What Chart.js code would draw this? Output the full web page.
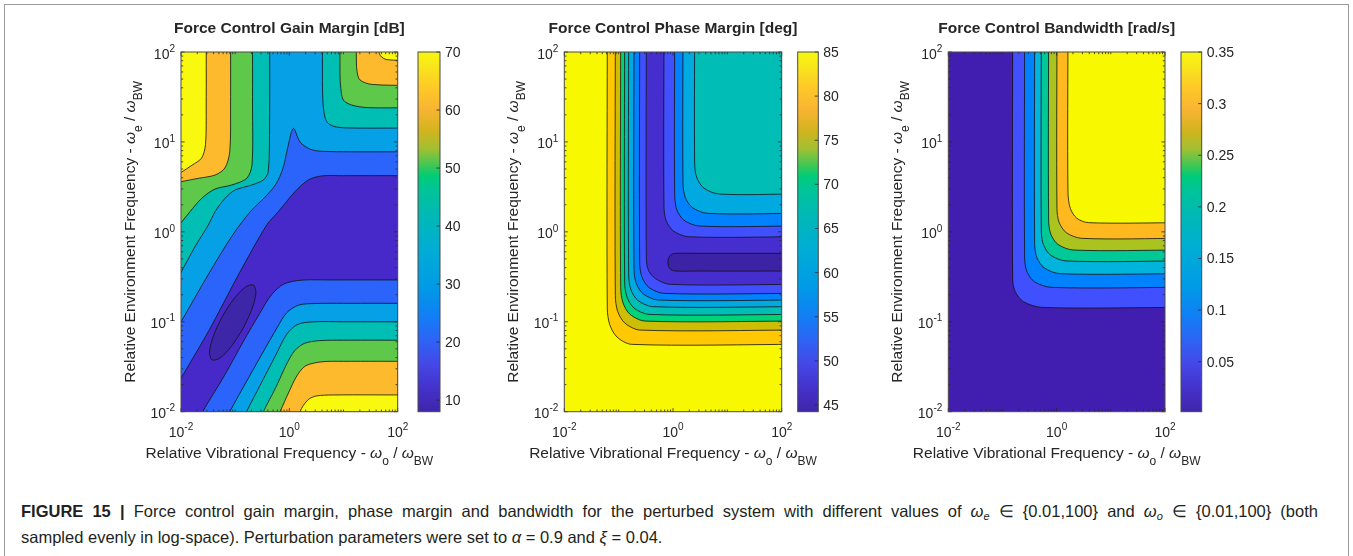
<!DOCTYPE html>
<html>
<head>
<meta charset="utf-8">
<title>Force control margins</title>
<script src="https://cdn.jsdelivr.net/npm/chart.js@4.4.1/dist/chart.umd.min.js"></script>
<style>
  html, body { margin: 0; padding: 0; background: #fff; }
  body { width: 1353px; height: 556px; position: relative; overflow: hidden;
         font-family: "Liberation Sans", Arial, Helvetica, sans-serif; }
  .frame { position: absolute; left: 4px; top: 4px; width: 1343px; height: 620px; border: 1px solid #9a9a9a; }
  canvas { position: absolute; }
  .caption { position: absolute; left: 21px; top: 498px; font-size: 16.5px; line-height: 26px;
             color: #231f20; white-space: nowrap; }
  .caption sub { font-size: 11px; vertical-align: -3px; line-height: 0; }
</style>
</head>
<body>
<div class="frame"></div>
<div class="caption"><span id="capLine1"><b>FIGURE 15</b> <b>|</b> Force control gain margin, phase margin and bandwidth for the perturbed system with different values of <i>ω<sub>e</sub></i> ∈ {0.01,100} and <i>ω<sub>o</sub></i> ∈ {0.01,100} (both</span><br>sampled evenly in log-space). Perturbation parameters were set to <i>α</i> = 0.9 and <i>ξ</i> = 0.04.</div>

<script>
// ================= DATA : AXES =================
// both axes: omega / omega_BW, log scale 1e-2 .. 1e2
const xTicks = [0.01, 1, 100];
const xTickExp = ['-2', '0', '2'];
const yTicks = [0.01, 0.1, 1, 10, 100];
const yTickExp = ['-2', '-1', '0', '1', '2'];

// contour lines are stored as [log10(w_o), log10(w_e)] pairs

// ================= DATA : GAIN MARGIN [dB] =================
const gmRange = [8.0, 70];
const gmBarTicks = [10, 20, 30, 40, 50, 60, 70];
// upper-left hills (40..70 dB)
const gmUL40 = [[-2.3,-0.78],[-2.0,-0.45],[-1.742,-0.165],[-1.496,0.076],[-1.372,0.224],[-1.188,0.373],[-1.003,0.465],[-0.695,0.521],[-0.48,0.577],[-0.39,0.669],[-0.365,1.2],[-0.363,2.3]];
const gmUL50 = [[-2.3,-0.12],[-2.0,0.10],[-1.834,0.224],[-1.618,0.373],[-1.372,0.476],[-1.064,0.521],[-0.787,0.595],[-0.69,0.743],[-0.68,1.4],[-0.68,2.3]];
const gmUL60 = [[-2.3,0.52],[-2.0,0.558],[-1.68,0.595],[-1.37,0.632],[-1.19,0.71],[-1.10,0.89],[-1.085,1.4],[-1.085,2.3]];
const gmUL70 = [[-2.3,0.54],[-2.0,0.66],[-1.80,0.74],[-1.62,0.82],[-1.548,0.97],[-1.535,1.4],[-1.535,2.3]];
// upper-right hills
const gmUR40 = [[0.612,2.3],[0.612,1.6],[0.63,1.374],[0.689,1.225],[0.843,1.169],[1.151,1.155],[2.3,1.155]];
const gmUR50 = [[0.935,2.3],[0.935,1.75],[0.95,1.596],[0.996,1.466],[1.151,1.41],[1.457,1.381],[2.3,1.381]];
const gmUR60 = [[1.237,2.3],[1.237,1.9],[1.25,1.78],[1.304,1.689],[1.52,1.64],[2.3,1.628]];
const gmUR70 = [[1.64,2.3],[1.64,2.05],[1.68,1.96],[1.80,1.915],[2.3,1.91]];
// valley, upper and lower branches of the 30 and 20 dB lines
const gmV30U = [[-2.3,-1.3],[-2.0,-1.0],[-1.502,-0.48],[-1.059,-0.046],[-0.726,0.221],[-0.449,0.387],[-0.246,0.532],[-0.117,0.71],[-0.019,0.966],[0.073,1.151],[0.197,1.0],[0.35,0.929],[0.535,0.899],[1.0,0.891],[2.3,0.891]];
const gmV20U = [[-2.3,-1.95],[-2.0,-1.629],[-1.496,-1.11],[-0.942,-0.48],[-0.418,0.076],[-0.204,0.224],[0.104,0.447],[0.35,0.577],[0.597,0.622],[1.0,0.625],[2.3,0.625]];
const gmV20L = [[-1.85,-2.3],[-1.60,-2.0],[-1.2,-1.6],[-0.85,-1.22],[-0.55,-0.91],[-0.33,-0.70],[-0.1,-0.58],[0.23,-0.537],[0.8,-0.535],[2.3,-0.535]];
const gmV30L = [[-1.35,-2.3],[-1.10,-2.0],[-0.75,-1.62],[-0.45,-1.3],[-0.22,-1.06],[-0.05,-0.90],[0.17,-0.815],[0.47,-0.797],[1.0,-0.795],[2.3,-0.795]];
// lower-right hills
const gmLR40 = [[-1.02,-2.3],[-0.79,-2.0],[-0.5,-1.66],[-0.25,-1.37],[-0.05,-1.14],[0.15,-1.03],[0.45,-1.0],[1.0,-1.0],[2.3,-1.0]];
const gmLR50 = [[-0.7,-2.3],[-0.48,-2.0],[-0.25,-1.73],[-0.05,-1.47],[0.1,-1.32],[0.28,-1.24],[0.55,-1.21],[1.0,-1.205],[2.3,-1.205]];
const gmLR60 = [[-0.38,-2.3],[-0.17,-2.0],[0.0,-1.77],[0.14,-1.6],[0.3,-1.49],[0.6,-1.445],[1.0,-1.44],[2.3,-1.44]];
const gmLR70 = [[0.1,-2.3],[0.20,-2.0],[0.26,-1.93],[0.36,-1.86],[0.5,-1.825],[0.8,-1.814],[2.3,-1.814]];
// closed 10 dB island
const gmE10 = [[-0.852,-1.073],[-0.688,-0.856],[-0.617,-0.679],[-0.665,-0.591],[-0.813,-0.615],[-1.024,-0.745],[-1.239,-0.944],[-1.404,-1.161],[-1.474,-1.337],[-1.426,-1.425],[-1.278,-1.402],[-1.068,-1.272],[-0.852,-1.073]];

// ================= DATA : PHASE MARGIN [deg] =================
const pmRange = [44.24, 85];
const pmBarTicks = [45, 50, 55, 60, 65, 70, 75, 80, 85];
const pmL80 = [[-1.209,2.3],[-1.209,-0.85],[-1.165,-1.03],[-1.03,-1.17],[-0.76,-1.251],[2.3,-1.251]];
const pmL75 = [[-1.061,2.3],[-1.061,-0.71],[-1.018,-0.885],[-0.885,-1.015],[-0.61,-1.092],[2.3,-1.092]];
const pmL70 = [[-0.963,2.3],[-0.963,-0.62],[-0.92,-0.79],[-0.79,-0.918],[-0.515,-0.992],[2.3,-0.992]];
const pmL65 = [[-0.890,2.3],[-0.890,-0.555],[-0.848,-0.722],[-0.718,-0.847],[-0.44,-0.918],[2.3,-0.918]];
const pmL60 = [[-0.816,2.3],[-0.816,-0.48],[-0.775,-0.643],[-0.645,-0.763],[-0.37,-0.832],[2.3,-0.832]];
const pmL55 = [[-0.718,2.3],[-0.718,-0.41],[-0.677,-0.572],[-0.548,-0.69],[-0.275,-0.758],[2.3,-0.758]];
const pmL50 = [[-0.613,2.3],[-0.613,-0.345],[-0.572,-0.502],[-0.443,-0.618],[-0.17,-0.684],[2.3,-0.684]];
const pmL45 = [[-0.491,2.3],[-0.491,-0.29],[-0.451,-0.43],[-0.322,-0.52],[-0.06,-0.584],[2.3,-0.584]];
const pmPill = [[2.3,-0.239],[0.5,-0.239],[0.03,-0.240],[-0.045,-0.258],[-0.085,-0.30],[-0.092,-0.3375],[-0.085,-0.375],[-0.045,-0.417],[0.03,-0.435],[0.5,-0.436],[2.3,-0.436]];
const pmU50 = [[-0.166,2.3],[-0.166,0.28],[-0.126,0.126],[0.004,0.011],[0.284,-0.054],[2.3,-0.054]];
const pmU55 = [[0.031,2.3],[0.031,0.40],[0.071,0.245],[0.201,0.13],[0.481,0.065],[2.3,0.065]];
const pmU60 = [[0.184,2.3],[0.184,0.54],[0.224,0.386],[0.354,0.271],[0.634,0.206],[2.3,0.206]];
const pmU65 = [[0.399,2.3],[0.399,0.75],[0.439,0.601],[0.569,0.486],[0.849,0.421],[2.3,0.421]];

// ================= DATA : BANDWIDTH [rad/s] =================
const bwRange = [0.0016, 0.35];
const bwBarTicks = [0.05, 0.1, 0.15, 0.2, 0.25, 0.3, 0.35];
const bwL05 = [[-0.812,2.3],[-0.812,-0.52],[-0.765,-0.665],[-0.61,-0.777],[-0.27,-0.840],[2.3,-0.840]];
const bwL10 = [[-0.591,2.3],[-0.591,-0.29],[-0.55,-0.44],[-0.41,-0.555],[-0.10,-0.617],[2.3,-0.617]];
const bwL15 = [[-0.406,2.3],[-0.406,-0.13],[-0.365,-0.285],[-0.23,-0.40],[0.06,-0.465],[2.3,-0.465]];
const bwL20 = [[-0.283,2.3],[-0.283,0.01],[-0.243,-0.145],[-0.11,-0.26],[0.18,-0.324],[2.3,-0.324]];
const bwL25 = [[-0.148,2.3],[-0.148,0.13],[-0.108,-0.025],[0.025,-0.14],[0.31,-0.202],[2.3,-0.202]];
const bwL30 = [[0.006,2.3],[0.006,0.26],[0.046,0.105],[0.18,-0.01],[0.46,-0.072],[2.3,-0.072]];
const bwL35 = [[0.209,2.3],[0.209,0.447],[0.252,0.261],[0.375,0.15],[0.591,0.102],[2.3,0.102]];

// ================= STYLE =================
const FONT = '"Liberation Sans", Arial, Helvetica, sans-serif';
const INK = '#262626';
const CANVAS_H = 480;
const PLOT_TOP = 52;
const PLOT_BOTTOM = 411.7;
const CAPTION_LINE1_RIGHT = 1318;

const GM = { c0: '#3d26a8', c10: '#4629c8', c20: '#2a64fa', c30: '#05a0e6', c40: '#00beb4', c50: '#5ec84a', c60: '#fdba2c', c70: '#f9f90f' };
const PM = { c0: '#3c23a5', c45: '#462dcd', c50: '#4150ff', c55: '#0082ff', c60: '#00aae1', c65: '#00bdb5', c70: '#00d278', c75: '#cdbd05', c80: '#ffc800', c85: '#f8f800' };
const BW = { c0: '#411eaf', c05: '#4150ff', c10: '#0082ff', c15: '#00b4dc', c20: '#00c896', c25: '#aac31e', c30: '#ffb91e', c35: '#f8f800' };

const parulaStops = [
  [0.00, '#3e26a8'], [0.06, '#4430c8'], [0.13, '#4547e6'], [0.20, '#2d64f5'],
  [0.27, '#1080f5'], [0.35, '#009be6'], [0.45, '#00add5'], [0.55, '#00b9b4'],
  [0.62, '#00c496'], [0.655, '#00cc78'], [0.68, '#35c85a'], [0.73, '#a0c032'],
  [0.78, '#d2b41e'], [0.84, '#f8b432'], [0.90, '#ffc828'], [0.95, '#f8e11e'], [1.00, '#f8f80f']
];

const xTitle = [{ t: 'Relative Vibrational Frequency - ' }, { t: 'ω', it: 1 }, { t: 'o', sub: 1 }, { t: ' / ' }, { t: 'ω', it: 1 }, { t: 'BW', sub: 1 }];
const yTitle = [{ t: 'Relative Environment Frequency - ' }, { t: 'ω', it: 1 }, { t: 'e', sub: 1 }, { t: ' / ' }, { t: 'ω', it: 1 }, { t: 'BW', sub: 1 }];

// ================= PANELS =================
const panels = [
  {
    title: 'Force Control Gain Margin [dB]', plot: [181, 397.7], bar: [418, 440], bg: GM.c30,
    range: gmRange, barTicks: gmBarTicks,
    layers: [
      { line: gmUL40, fill: 'end', color: GM.c40 }, { line: gmUL50, fill: 'end', color: GM.c50 },
      { line: gmUL60, fill: 'end', color: GM.c60 }, { line: gmUL70, fill: 'end', color: GM.c70 },
      { line: gmUR40, fill: 'end', color: GM.c40 }, { line: gmUR50, fill: 'end', color: GM.c50 },
      { line: gmUR60, fill: 'end', color: GM.c60 }, { line: gmUR70, fill: 'end', color: GM.c70 },
      { line: gmV30U, fill: 'start', color: GM.c20 }, { line: gmV20U, fill: 'start', color: GM.c10 },
      { line: gmV20L, fill: 'start', color: GM.c20 }, { line: gmV30L, fill: 'start', color: GM.c30 },
      { line: gmLR40, fill: 'start', color: GM.c40 }, { line: gmLR50, fill: 'start', color: GM.c50 },
      { line: gmLR60, fill: 'start', color: GM.c60 }, { line: gmLR70, fill: 'start', color: GM.c70 },
      { line: gmE10, fill: 'shape', color: GM.c0 }
    ]
  },
  {
    title: 'Force Control Phase Margin [deg]', plot: [564.3, 781.7], bar: [797.7, 818.3], bg: PM.c85,
    range: pmRange, barTicks: pmBarTicks,
    layers: [
      { line: pmL80, fill: 'end', color: PM.c80 }, { line: pmL75, fill: 'end', color: PM.c75 },
      { line: pmL70, fill: 'end', color: PM.c70 }, { line: pmL65, fill: 'end', color: PM.c65 },
      { line: pmL60, fill: 'end', color: PM.c60 }, { line: pmL55, fill: 'end', color: PM.c55 },
      { line: pmL50, fill: 'end', color: PM.c50 }, { line: pmL45, fill: 'end', color: PM.c45 },
      { line: pmPill, fill: 'shape', color: PM.c0 },
      { line: pmU50, fill: 'end', color: PM.c50 }, { line: pmU55, fill: 'end', color: PM.c55 },
      { line: pmU60, fill: 'end', color: PM.c60 }, { line: pmU65, fill: 'end', color: PM.c65 }
    ]
  },
  {
    title: 'Force Control Bandwidth [rad/s]', plot: [948.3, 1165], bar: [1181, 1201.7], bg: BW.c0,
    range: bwRange, barTicks: bwBarTicks,
    layers: [
      { line: bwL05, fill: 'end', color: BW.c05 }, { line: bwL10, fill: 'end', color: BW.c10 },
      { line: bwL15, fill: 'end', color: BW.c15 }, { line: bwL20, fill: 'end', color: BW.c20 },
      { line: bwL25, fill: 'end', color: BW.c25 }, { line: bwL30, fill: 'end', color: BW.c30 },
      { line: bwL35, fill: 'end', color: BW.c35 }
    ]
  }
];

// ================= HELPERS =================
function richFont(p) {
  return (p.it ? 'italic ' : '') + (p.sub ? '12px ' : '15.5px ') + FONT;
}

function drawRich(ctx, parts, x, y) {
  const widths = parts.map(p => { ctx.font = richFont(p); return ctx.measureText(p.t).width; });
  let cx = x - widths.reduce((s, w) => s + w, 0) / 2;
  parts.forEach((p, i) => {
    ctx.font = richFont(p);
    ctx.fillText(p.t, cx, y + (p.sub ? 7.5 : 0));
    cx += widths[i];
  });
}

function drawPow(ctx, exp, x, y, align) {
  ctx.font = '14px ' + FONT;
  const w1 = ctx.measureText('10').width;
  ctx.font = '10px ' + FONT;
  const w2 = ctx.measureText(exp).width;
  const x0 = align === 'center' ? x - (w1 + w2) / 2 : x - (w1 + w2);
  ctx.font = '14px ' + FONT;
  ctx.fillText('10', x0, y);
  ctx.font = '10px ' + FONT;
  ctx.fillText(exp, x0 + w1, y - 6.8);
}

function parulaGradient(chart) {
  const a = chart.chartArea;
  if (!a) return parulaStops[0][1];
  const g = chart.ctx.createLinearGradient(0, a.bottom, 0, a.top);
  parulaStops.forEach(([t, c]) => g.addColorStop(t, c));
  return g;
}

function makeCanvas(left, width) {
  const c = document.createElement('canvas');
  c.width = width;
  c.height = CANVAS_H;
  c.style.left = left + 'px';
  c.style.top = '0px';
  document.body.appendChild(c);
  return c;
}

// ================= PLUGINS =================
const matlabAxes = {
  id: 'matlabAxes',
  beforeDatasetsDraw(chart, args, opts) {
    const { ctx, chartArea: a } = chart;
    ctx.save();
    ctx.fillStyle = opts.background;
    ctx.fillRect(a.left, a.top, a.right - a.left, a.bottom - a.top);
    ctx.restore();
  },
  afterDraw(chart, args, opts) {
    const { ctx, chartArea: a, scales: { x, y } } = chart;
    ctx.save();

    // inward ticks on all four sides, minor ones at 2..9 of each decade
    ctx.strokeStyle = INK;
    ctx.lineWidth = 0.8;
    ctx.beginPath();
    yTicks.forEach(d => {
      for (let m = 1; m < 10; m++) {
        const v = d * m;
        if (v > 100) break;
        const px = x.getPixelForValue(v), py = y.getPixelForValue(v);
        const lx = xTicks.includes(v) ? 3.6 : 2.2;
        const ly = m === 1 ? 3.6 : 2.2;
        ctx.moveTo(px, a.bottom); ctx.lineTo(px, a.bottom - lx);
        ctx.moveTo(px, a.top); ctx.lineTo(px, a.top + lx);
        ctx.moveTo(a.left, py); ctx.lineTo(a.left + ly, py);
        ctx.moveTo(a.right, py); ctx.lineTo(a.right - ly, py);
      }
    });
    ctx.stroke();

    ctx.strokeStyle = '#4a4a4a';
    ctx.lineWidth = 1;
    ctx.strokeRect(a.left, a.top, a.right - a.left, a.bottom - a.top);

    // tick labels 10^n
    ctx.fillStyle = INK;
    xTicks.forEach((v, i) => drawPow(ctx, xTickExp[i], x.getPixelForValue(v), a.bottom + 25, 'center'));
    yTicks.forEach((v, i) => drawPow(ctx, yTickExp[i], a.left - 6, y.getPixelForValue(v) + 6.5, 'right'));

    // titles
    const cx = (a.left + a.right) / 2, cy = (a.top + a.bottom) / 2;
    ctx.font = 'bold 15.5px ' + FONT;
    ctx.textAlign = 'center';
    ctx.fillText(opts.title, cx, 33);
    ctx.textAlign = 'left';
    drawRich(ctx, xTitle, cx, a.bottom + 46);
    ctx.translate(a.left - 52, cy);
    ctx.rotate(-Math.PI / 2);
    drawRich(ctx, yTitle, 0, 5.5);
    ctx.restore();
  }
};

const colorbarDeco = {
  id: 'colorbarDeco',
  afterDraw(chart, args, opts) {
    const { ctx, chartArea: a, scales: { y } } = chart;
    ctx.save();
    ctx.strokeStyle = INK;
    ctx.lineWidth = 0.8;
    ctx.font = '14px ' + FONT;
    ctx.fillStyle = INK;
    opts.ticks.forEach(v => {
      const py = y.getPixelForValue(v);
      ctx.beginPath();
      ctx.moveTo(a.right, py); ctx.lineTo(a.right - 3.6, py);
      ctx.stroke();
      ctx.fillText(String(v), a.right + 5, py + 5);
    });
    ctx.strokeStyle = '#4a4a4a';
    ctx.lineWidth = 1;
    ctx.strokeRect(a.left, a.top, a.right - a.left, a.bottom - a.top);
    ctx.restore();
  }
};

// ================= BUILD CHARTS =================
function drawPanel(p) {
  const left = Math.floor(p.plot[0] - 112);
  const width = Math.ceil(p.plot[1] + 80 - left);
  const cv = makeCanvas(left, width);
  const n = p.layers.length;
  const datasets = p.layers.map((l, i) => ({
    data: l.line.map(([lx, ly]) => ({ x: Math.pow(10, lx), y: Math.pow(10, ly) })),
    showLine: true,
    fill: l.fill,
    backgroundColor: l.color,
    borderColor: '#111',
    borderWidth: 0.8,
    pointRadius: 0,
    tension: 0.3,
    capBezierPoints: false,
    order: n - i
  }));
  new Chart(cv, {
    type: 'scatter',
    data: { datasets },
    options: {
      responsive: false,
      animation: false,
      events: [],
      devicePixelRatio: 1,
      layout: { padding: { left: p.plot[0] - left, right: left + width - p.plot[1], top: PLOT_TOP, bottom: CANVAS_H - PLOT_BOTTOM } },
      elements: { line: { capBezierPoints: false } },
      plugins: {
        legend: { display: false },
        tooltip: { enabled: false },
        matlabAxes: { background: p.bg, title: p.title }
      },
      scales: {
        x: { type: 'logarithmic', min: 0.01, max: 100, display: false },
        y: { type: 'logarithmic', min: 0.01, max: 100, display: false }
      }
    },
    plugins: [matlabAxes]
  });
}

function drawColorbar(p) {
  const left = Math.floor(p.bar[0] - 4);
  const width = Math.ceil(p.bar[1] + 60 - left);
  const cv = makeCanvas(left, width);
  new Chart(cv, {
    type: 'bar',
    data: {
      labels: [''],
      datasets: [{
        data: [p.range],
        backgroundColor: c => parulaGradient(c.chart),
        borderWidth: 0,
        barPercentage: 1,
        categoryPercentage: 1
      }]
    },
    options: {
      responsive: false,
      animation: false,
      events: [],
      devicePixelRatio: 1,
      layout: { padding: { left: p.bar[0] - left, right: left + width - p.bar[1], top: PLOT_TOP, bottom: CANVAS_H - PLOT_BOTTOM } },
      plugins: {
        legend: { display: false },
        tooltip: { enabled: false },
        colorbarDeco: { ticks: p.barTicks }
      },
      scales: {
        x: { display: false },
        y: { display: false, min: p.range[0], max: p.range[1] }
      }
    },
    plugins: [colorbarDeco]
  });
}

panels.forEach(p => {
  drawPanel(p);
  drawColorbar(p);
});

// caption: first line is justified to the column width
const cap1 = document.getElementById('capLine1');
const gaps = (cap1.textContent.match(/ /g) || []).length;
const extra = (CAPTION_LINE1_RIGHT - cap1.getBoundingClientRect().right) / gaps;
if (extra > 0) cap1.style.wordSpacing = extra + 'px';
</script>
</body>
</html>
